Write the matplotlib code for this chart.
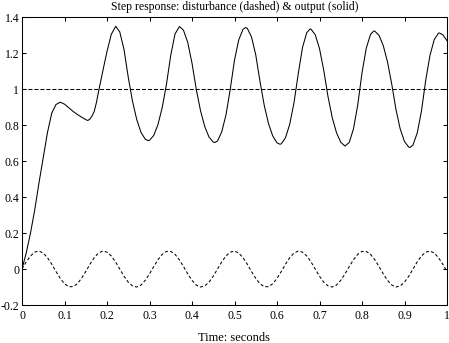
import matplotlib
matplotlib.use("Agg")
import matplotlib.pyplot as plt

plt.rcParams['font.family'] = ['Liberation Serif', 'DejaVu Serif']
plt.rcParams['lines.scale_dashes'] = False

# ---- data ----
out_t = [0.00, 0.01, 0.02, 0.03, 0.04, 0.05, 0.06, 0.07, 0.08, 0.09,
         0.10, 0.11, 0.12, 0.13, 0.14, 0.15, 0.155, 0.16, 0.165, 0.17,
         0.175, 0.18, 0.19, 0.20, 0.21, 0.2205, 0.23, 0.24, 0.25, 0.26,
         0.27, 0.28, 0.29, 0.297, 0.30, 0.31, 0.32, 0.33, 0.34, 0.35,
         0.36, 0.3705, 0.38, 0.39, 0.40, 0.41, 0.42, 0.43, 0.44, 0.45,
         0.454, 0.46, 0.47, 0.48, 0.49, 0.50, 0.51, 0.52, 0.526, 0.53,
         0.54, 0.55, 0.56, 0.57, 0.58, 0.59, 0.60, 0.607, 0.61, 0.62,
         0.63, 0.64, 0.65, 0.66, 0.67, 0.678, 0.68, 0.69, 0.70, 0.71,
         0.72, 0.73, 0.74, 0.75, 0.76, 0.77, 0.78, 0.79, 0.80, 0.81,
         0.82, 0.828, 0.83, 0.84, 0.85, 0.86, 0.87, 0.88, 0.89, 0.90,
         0.91, 0.913, 0.92, 0.93, 0.94, 0.95, 0.96, 0.97, 0.98, 0.982,
         0.99, 1.00]
out_y = [0.000, 0.090, 0.200, 0.330, 0.480, 0.620, 0.760, 0.867, 0.915, 0.928,
         0.917, 0.897, 0.877, 0.860, 0.845, 0.831, 0.826, 0.835, 0.852, 0.877,
         0.925, 0.985, 1.100, 1.210, 1.305, 1.350, 1.319, 1.221, 1.067, 0.933,
         0.831, 0.760, 0.722, 0.714, 0.716, 0.743, 0.804, 0.899, 1.029, 1.189,
         1.307, 1.349, 1.328, 1.260, 1.145, 1.000, 0.881, 0.792, 0.734, 0.706,
         0.704, 0.712, 0.763, 0.858, 1.000, 1.162, 1.275, 1.333, 1.343, 1.339,
         1.291, 1.191, 1.043, 0.910, 0.809, 0.740, 0.702, 0.694, 0.696, 0.730,
         0.806, 0.925, 1.086, 1.232, 1.315, 1.335, 1.334, 1.303, 1.226, 1.105,
         0.959, 0.842, 0.758, 0.705, 0.684, 0.704, 0.780, 0.913, 1.091, 1.228,
         1.305, 1.324, 1.323, 1.300, 1.243, 1.152, 1.028, 0.886, 0.778, 0.709,
         0.678, 0.676, 0.690, 0.757, 0.880, 1.051, 1.189, 1.276, 1.312, 1.313,
         1.303, 1.270]

dist_t = [i / 100 for i in range(101)]
dist_y = [0.000, 0.040, 0.073, 0.094, 0.100, 0.089, 0.063, 0.027, -0.014, -0.052,
          -0.082, -0.098, -0.098, -0.082, -0.052, -0.014, 0.027, 0.063, 0.089, 0.100,
          0.094, 0.073, 0.040, 0.000, -0.040, -0.073, -0.094, -0.100, -0.089, -0.063,
          -0.027, 0.014, 0.052, 0.082, 0.098, 0.098, 0.082, 0.052, 0.014, -0.027,
          -0.063, -0.089, -0.100, -0.094, -0.073, -0.040, 0.000, 0.040, 0.073, 0.094,
          0.100, 0.089, 0.063, 0.027, -0.014, -0.052, -0.082, -0.098, -0.098, -0.082,
          -0.052, -0.014, 0.027, 0.063, 0.089, 0.100, 0.094, 0.073, 0.040, 0.000,
          -0.040, -0.073, -0.094, -0.100, -0.089, -0.063, -0.027, 0.014, 0.052, 0.082,
          0.098, 0.098, 0.082, 0.052, 0.014, -0.027, -0.063, -0.089, -0.100, -0.094,
          -0.073, -0.040, 0.000, 0.040, 0.073, 0.094, 0.100, 0.089, 0.063, 0.027,
          -0.014]

ref_t = [0.0, 1.0]
ref_y = [1.0, 1.0]

xticks = [0, 0.1, 0.2, 0.3, 0.4, 0.5, 0.6, 0.7, 0.8, 0.9, 1.0]
xtick_labels = ['0', '0.1', '0.2', '0.3', '0.4', '0.5', '0.6', '0.7', '0.8', '0.9', '1']
yticks = [-0.2, 0, 0.2, 0.4, 0.6, 0.8, 1.0, 1.2, 1.4]
ytick_labels = ['-0.2', '0', '0.2', '0.4', '0.6', '0.8', '1', '1.2', '1.4']

title = 'Step response: disturbance (dashed) & output (solid)'
xlabel = 'Time: seconds'

# ---- figure ----
fig = plt.figure(figsize=(4.49, 3.43), dpi=100)
ax = fig.add_axes([22 / 449, 1 - 305 / 343, (447 - 22) / 449, (305 - 17.3) / 343])

lw = 0.75
ax.plot(out_t, out_y, color='black', lw=lw, solid_joinstyle='round')
ax.plot(dist_t, dist_y, color='black', lw=lw, dashes=(2.2, 1.6))
ax.plot(ref_t, ref_y, color='black', lw=lw, dashes=(2.9, 1.4))

ax.set_xlim(0, 1)
ax.set_ylim(-0.2, 1.4)
ax.set_xticks(xticks)
ax.set_xticklabels(xtick_labels)
ax.set_yticks(yticks)
ax.set_yticklabels(ytick_labels)
ax.tick_params(direction='in', top=True, right=True, length=3, width=0.75,
               labelsize=8.5, colors='black')
ax.tick_params(axis='x', pad=3.5)
ax.tick_params(axis='y', pad=2)
for s in ax.spines.values():
    s.set_linewidth(0.75)

ax.set_title(title, fontsize=8.5, pad=5)
ax.set_xlabel(xlabel, fontsize=9, labelpad=7)

fig.savefig('out.png', dpi=100, facecolor='white')
